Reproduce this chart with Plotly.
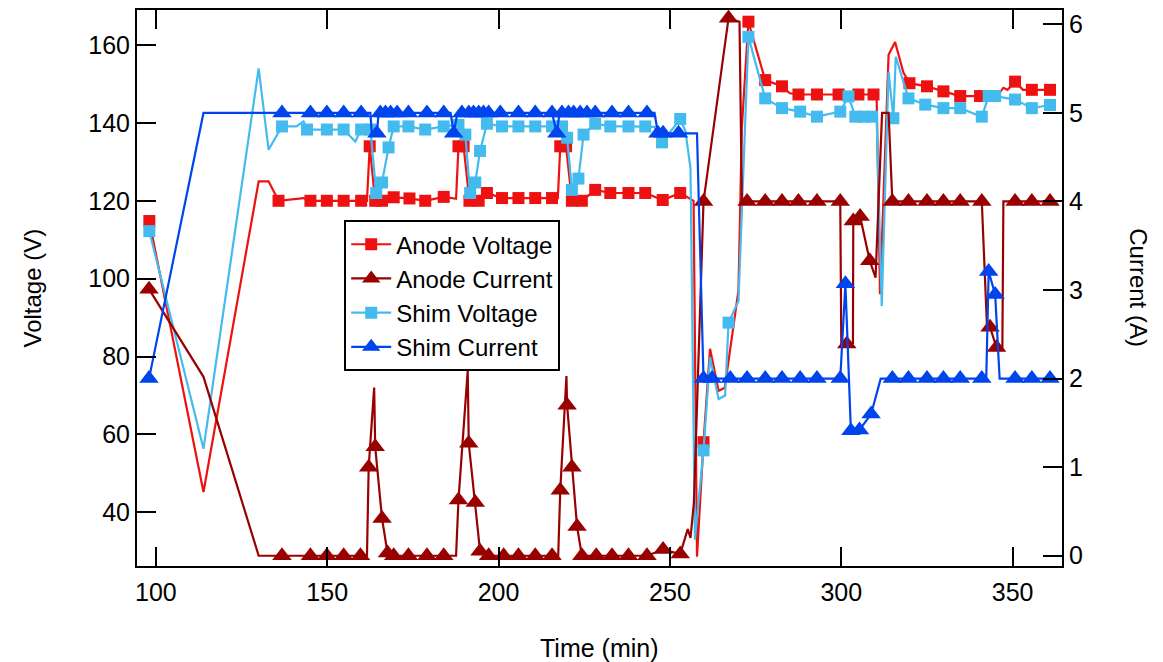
import plotly.graph_objects as go

# Each sample: (time in min, value, logged reading flag)
anode_voltage = [
    (98.1, 114.8, 1), (113.9, 45.2, 0), (130.0, 125.0, 0), (132.9, 125.0, 0),
    (135.8, 120.0, 1), (143.1, 120.7, 0), (145.1, 120.0, 1), (149.9, 120.0, 1),
    (154.8, 120.0, 1), (159.9, 120.0, 1), (161.6, 120.0, 0), (162.4, 134.0, 1),
    (164.0, 120.0, 1), (166.0, 120.0, 1), (167.5, 121.0, 0), (169.4, 120.9, 1),
    (174.0, 120.6, 1), (178.6, 120.0, 1), (184.0, 121.0, 1), (187.6, 120.5, 0),
    (188.3, 134.0, 1), (189.8, 134.0, 1), (191.5, 120.0, 1), (194.2, 120.0, 1),
    (196.6, 122.0, 1), (201.0, 120.7, 1), (205.8, 120.7, 1), (210.7, 120.7, 1),
    (215.6, 120.7, 1), (217.3, 120.7, 0), (218.0, 134.0, 1), (219.7, 134.0, 1),
    (221.4, 120.0, 1), (224.3, 120.0, 1), (228.2, 122.8, 1), (232.6, 122.0, 1),
    (237.9, 122.0, 1), (242.8, 122.0, 1), (247.9, 120.2, 1), (253.0, 122.0, 1),
    (256.9, 120.0, 0), (257.9, 28.6, 0), (259.8, 58.0, 1), (261.7, 82.0, 0),
    (264.2, 71.2, 0), (266.0, 72.0, 0), (270.0, 97.0, 0), (271.0, 139.0, 0),
    (272.9, 166.0, 1), (277.8, 151.0, 1), (282.7, 149.4, 1), (285.0, 147.6, 0),
    (287.5, 147.3, 1), (292.9, 147.3, 1), (299.2, 147.3, 1), (305.0, 147.3, 1),
    (309.4, 147.3, 1), (310.3, 147.3, 0), (311.3, 96.0, 0), (313.8, 157.5, 0),
    (315.7, 160.8, 0), (318.1, 153.0, 0), (319.9, 150.2, 1), (325.0, 149.4, 1),
    (329.8, 148.1, 1), (334.7, 146.9, 1), (340.5, 146.9, 1), (345.5, 147.0, 0),
    (347.3, 149.0, 0), (348.5, 148.5, 0), (350.7, 150.6, 1), (353.0, 148.5, 0),
    (355.6, 148.5, 1), (360.9, 148.5, 1),
]

anode_current = [
    (98.0, 3.01, 1), (113.9, 2.02, 0), (130.0, 0.0, 0), (136.8, 0.0, 1),
    (145.1, 0.0, 1), (149.9, 0.0, 1), (154.8, 0.0, 1), (159.7, 0.0, 1),
    (161.6, 0.0, 0), (162.1, 1.0, 1), (163.7, 1.9, 0), (164.0, 1.23, 1),
    (166.0, 0.42, 1), (167.6, 0.03, 1), (169.4, 0.0, 1), (173.7, 0.0, 1),
    (179.1, 0.0, 1), (184.0, 0.0, 1), (187.6, 0.0, 0), (188.3, 0.63, 1),
    (191.0, 2.09, 0), (191.3, 1.27, 1), (193.2, 0.6, 1), (194.6, 0.05, 1),
    (197.1, 0.0, 1), (201.5, 0.0, 1), (205.8, 0.0, 1), (210.7, 0.0, 1),
    (215.6, 0.0, 1), (217.4, 0.0, 0), (218.0, 0.74, 1), (219.8, 2.03, 0),
    (220.0, 1.70, 1), (221.4, 1.0, 1), (222.9, 0.33, 1), (224.3, 0.0, 1),
    (228.5, 0.0, 1), (233.1, 0.0, 1), (237.9, 0.0, 1), (243.3, 0.0, 1),
    (248.0, 0.07, 1), (253.0, 0.02, 1), (255.2, 0.3, 0), (256.0, 0.2, 0),
    (257.0, 0.6, 0), (259.8, 4.0, 1), (267.1, 6.07, 1), (270.3, 6.03, 0),
    (271.0, 4.0, 0), (272.5, 4.0, 1), (277.8, 4.0, 1), (282.7, 4.0, 1),
    (287.5, 4.0, 1), (292.9, 4.0, 1), (299.7, 4.0, 1), (300.0, 2.4, 0),
    (301.6, 2.39, 1), (303.4, 2.4, 0), (303.5, 3.78, 1), (305.5, 3.83, 1),
    (308.3, 3.33, 1), (310.0, 3.14, 0), (311.9, 5.0, 0), (313.8, 5.0, 0),
    (314.9, 4.0, 1), (319.6, 4.0, 1), (325.0, 4.0, 1), (329.8, 4.0, 1),
    (334.7, 4.0, 1), (341.0, 4.0, 1), (342.5, 2.6, 0), (343.4, 2.58, 1),
    (345.3, 2.35, 1), (347.0, 2.35, 0), (347.3, 4.0, 0), (350.7, 4.0, 1),
    (355.6, 4.0, 1), (360.9, 4.0, 1),
]

shim_voltage = [
    (98.1, 112.2, 1), (113.9, 56.3, 0), (130.0, 154.0, 0), (132.9, 133.1, 0),
    (136.8, 139.1, 1), (141.0, 139.1, 0), (143.1, 140.4, 0), (144.1, 138.3, 1),
    (149.9, 138.3, 1), (154.8, 138.3, 1), (158.2, 135.2, 0), (159.9, 138.3, 1),
    (162.6, 138.3, 1), (164.3, 122.0, 1), (166.0, 124.7, 1), (167.9, 133.7, 1),
    (169.4, 139.1, 1), (173.7, 139.1, 1), (178.6, 138.3, 1), (184.0, 139.1, 1),
    (188.3, 139.5, 1), (190.3, 137.0, 1), (191.7, 122.0, 1), (193.2, 124.7, 1),
    (194.6, 132.8, 1), (196.6, 139.8, 1), (201.0, 139.1, 1), (205.8, 139.1, 1),
    (210.7, 139.1, 1), (215.6, 139.1, 1), (218.5, 139.1, 1), (220.0, 136.2, 1),
    (221.4, 122.8, 1), (223.3, 125.7, 1), (224.8, 137.0, 1), (228.2, 139.8, 1),
    (232.6, 139.1, 1), (237.9, 139.1, 1), (242.8, 139.1, 1), (245.5, 139.0, 0),
    (247.7, 135.0, 1), (253.0, 141.0, 1), (254.5, 138.0, 0), (256.0, 128.4, 0),
    (257.3, 33.0, 0), (259.8, 55.9, 1), (261.7, 79.8, 0), (264.2, 69.1, 0),
    (266.1, 70.0, 0), (267.1, 88.7, 1), (270.0, 94.3, 0), (272.9, 162.1, 1),
    (277.8, 146.3, 1), (282.7, 143.8, 1), (288.0, 142.9, 1), (292.9, 141.6, 1),
    (299.7, 142.9, 1), (302.1, 146.8, 1), (304.1, 141.6, 1), (306.5, 141.6, 1),
    (309.0, 141.6, 1), (310.3, 141.6, 0), (311.8, 93.0, 0), (313.8, 153.2, 0),
    (315.2, 141.2, 1), (315.9, 157.0, 0), (319.6, 146.3, 1), (324.5, 144.7, 1),
    (329.8, 143.8, 1), (334.7, 143.8, 1), (341.0, 141.6, 1), (343.0, 146.9, 1),
    (344.9, 146.9, 1), (350.7, 146.0, 1), (355.6, 143.8, 1), (360.9, 144.6, 1),
]

shim_current = [
    (98.0, 2.0, 1), (113.9, 5.0, 0), (136.8, 5.0, 1), (145.1, 5.0, 1),
    (149.9, 5.0, 1), (154.8, 5.0, 1), (159.9, 5.0, 1), (162.6, 5.0, 0),
    (163.0, 4.77, 0), (164.5, 4.77, 1), (165.0, 5.0, 0), (165.5, 5.0, 1),
    (167.0, 5.0, 1), (168.5, 5.0, 1), (170.4, 5.0, 1), (173.7, 5.0, 1),
    (179.1, 5.0, 1), (184.0, 5.0, 1), (186.0, 5.0, 0), (186.9, 4.77, 1),
    (188.0, 5.0, 0), (189.3, 5.0, 1), (191.3, 5.0, 1), (192.7, 5.0, 1),
    (194.2, 5.0, 1), (195.6, 5.0, 1), (197.1, 5.0, 1), (200.5, 5.0, 1),
    (205.8, 5.0, 1), (210.7, 5.0, 1), (215.6, 5.0, 1), (217.0, 4.77, 1),
    (217.8, 5.0, 0), (218.5, 5.0, 1), (220.4, 5.0, 1), (221.9, 5.0, 1),
    (223.8, 5.0, 1), (225.8, 5.0, 1), (228.2, 5.0, 1), (233.1, 5.0, 1),
    (237.9, 5.0, 1), (243.3, 5.0, 1), (245.5, 5.0, 0), (246.5, 4.77, 1),
    (248.0, 4.77, 1), (252.5, 4.77, 1), (257.9, 4.77, 0), (259.8, 2.0, 1),
    (262.3, 2.0, 1), (267.6, 2.0, 1), (272.5, 2.0, 1), (277.8, 2.0, 1),
    (282.7, 2.0, 1), (288.0, 2.0, 1), (292.9, 2.0, 1), (299.7, 2.0, 1),
    (301.2, 3.07, 1), (302.8, 1.41, 1), (305.3, 1.42, 1), (308.7, 1.60, 1),
    (311.5, 2.0, 0), (314.9, 2.0, 1), (319.6, 2.0, 1), (325.0, 2.0, 1),
    (329.8, 2.0, 1), (334.7, 2.0, 1), (341.0, 2.0, 1), (342.3, 2.0, 0),
    (343.0, 3.21, 1), (344.9, 2.95, 1), (346.2, 2.0, 0), (350.7, 2.0, 1),
    (355.6, 2.0, 1), (360.9, 2.0, 1),
]

time_ticks = [100, 150, 200, 250, 300, 350]
voltage_ticks = [40, 60, 80, 100, 120, 140, 160]
current_ticks = [0, 1, 2, 3, 4, 5, 6]

FONT = "Liberation Sans, Arial, sans-serif"

series = [
    ("Anode Voltage", anode_voltage, "y", "#EE1111", "square", 12),
    ("Anode Current", anode_current, "y2", "#990000", "triangle-up", 17),
    ("Shim Voltage", shim_voltage, "y", "#44BBEE", "square", 12),
    ("Shim Current", shim_current, "y2", "#0044EE", "triangle-up", 17),
]

fig = go.Figure()
for name, samples, axis, color, symbol, size in series:
    t = [s[0] for s in samples]
    val = [s[1] for s in samples]
    t_log = [s[0] for s in samples if s[2]]
    val_log = [s[1] for s in samples if s[2]]
    # continuous trace
    fig.add_trace(go.Scatter(x=t, y=val, yaxis=axis, mode="lines",
                             line=dict(color=color, width=2.2),
                             showlegend=False, legendgroup=name, hoverinfo="skip"))
    # logged readings
    fig.add_trace(go.Scatter(x=t_log, y=val_log, yaxis=axis, mode="markers",
                             marker=dict(color=color, symbol=symbol, size=size,
                                         line=dict(width=0)),
                             showlegend=False, legendgroup=name))
    # legend key
    fig.add_trace(go.Scatter(x=[None], y=[None], yaxis=axis, mode="lines+markers",
                             name=name, legendgroup=name,
                             line=dict(color=color, width=2.2),
                             marker=dict(color=color, symbol=symbol, size=size,
                                         line=dict(width=0))))

axis_common = dict(
    showgrid=False, zeroline=False, showline=True, linecolor="black", linewidth=2,
    ticks="inside", ticklen=19, tickwidth=2, tickcolor="black",
    tickfont=dict(family=FONT, size=25, color="black"),
)

fig.update_layout(
    width=1163, height=662,
    margin=dict(l=137, r=101, t=8, b=96),
    paper_bgcolor="white", plot_bgcolor="white",
    font=dict(family=FONT, size=24, color="black"),
    xaxis=dict(range=[94.5, 364.4], tickvals=time_ticks, mirror="ticks",
               ticklabelstandoff=3, **axis_common),
    yaxis=dict(range=[26.2, 169.0], tickvals=voltage_ticks, **axis_common),
    yaxis2=dict(range=[-0.116, 6.162], tickvals=current_ticks, overlaying="y",
                side="right", **axis_common),
    legend=dict(x=0.224, y=0.622, xanchor="left", yanchor="top",
                bgcolor="white", bordercolor="black", borderwidth=2,
                font=dict(family=FONT, size=24, color="black"),
                tracegroupgap=0, itemwidth=40),
    showlegend=True,
    annotations=[
        dict(text="Time (min)", xref="paper", yref="paper", x=0.5, y=-0.147,
             showarrow=False, xanchor="center", yanchor="middle",
             font=dict(family=FONT, size=25)),
        dict(text="Voltage (V)", xref="paper", yref="paper", x=-0.114, y=0.5,
             showarrow=False, textangle=-90, xanchor="center", yanchor="middle",
             font=dict(family=FONT, size=24)),
        dict(text="Current (A)", xref="paper", yref="paper", x=1.083, y=0.5,
             showarrow=False, textangle=90, xanchor="center", yanchor="middle",
             font=dict(family=FONT, size=24)),
    ],
)

fig.write_html("out.html")
